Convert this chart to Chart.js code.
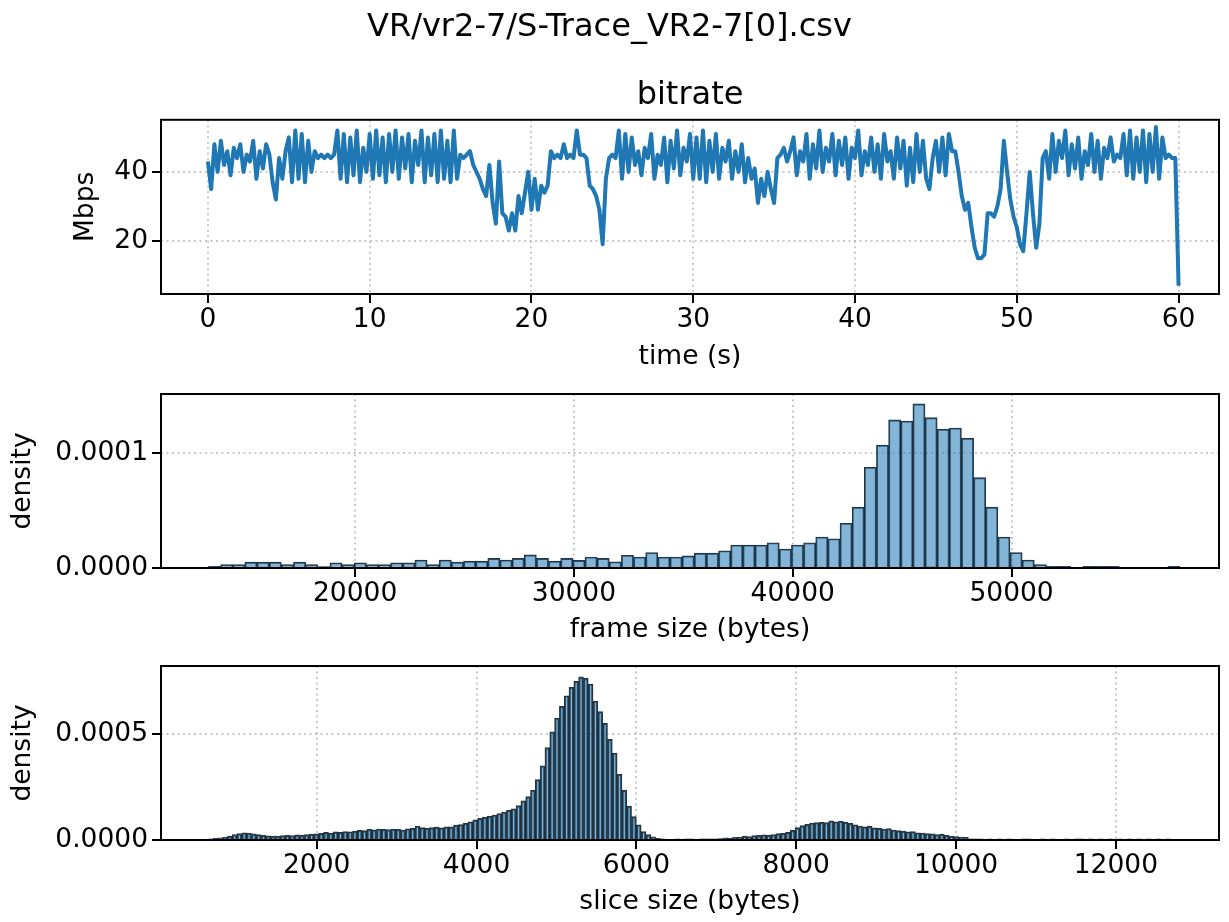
<!DOCTYPE html>
<html>
<head>
<meta charset="utf-8">
<script src="https://cdn.jsdelivr.net/npm/chart.js@4.4.1/dist/chart.umd.min.js"></script>
<style>
  body { margin: 0; background: #fff; }
  canvas { position: absolute; left: 0; }
</style>
</head>
<body>
<canvas id="bitrateChart" width="1229" height="380" style="top:0px"></canvas>
<canvas id="frameChart" width="1229" height="268" style="top:380px"></canvas>
<canvas id="sliceChart" width="1229" height="270" style="top:652px"></canvas>
<script>
// bitrate trace, one sample every 0.2 s from 0 to 60 s
const TIME_STEP = 0.2;
const bitrateMbps = [
  43, 35, 48, 40, 49, 42, 46, 39, 47, 44, 48, 40, 45, 43, 49, 38, 46, 41, 48, 45, 37, 32, 44, 38, 46,
  50, 37, 52, 38, 51, 37, 49, 40, 46, 44, 45, 44, 45, 44, 45, 52, 38, 51, 37, 50, 39, 52, 37, 47, 40,
  51, 38, 52, 39, 50, 37, 51, 40, 52, 38, 50, 41, 51, 37, 49, 42, 52, 37, 50, 39, 51, 37, 52, 38, 49,
  37, 52, 38, 45, 44, 45, 46, 42, 40, 38, 35, 33, 42, 31, 25, 43, 28, 27, 23, 28, 23, 33, 28, 34, 40,
  29, 38, 29, 36, 34, 36, 46, 44, 45, 44, 48, 44, 45, 44, 52, 45, 45, 44, 36, 35, 33, 29, 19, 38, 44,
  45, 44, 52, 38, 51, 40, 50, 42, 46, 39, 47, 44, 51, 38, 45, 42, 50, 37, 49, 41, 52, 39, 47, 43, 51,
  38, 50, 38, 52, 37, 49, 40, 51, 38, 47, 43, 49, 38, 46, 40, 48, 37, 44, 38, 41, 31, 38, 33, 40, 35,
  31, 44, 45, 47, 43, 46, 50, 39, 46, 43, 51, 38, 48, 41, 52, 40, 47, 43, 51, 39, 49, 42, 50, 38, 47,
  44, 52, 39, 46, 42, 50, 40, 48, 38, 51, 43, 46, 38, 50, 41, 49, 36, 47, 37, 51, 40, 49, 38, 35, 44,
  49, 40, 50, 39, 51, 46, 46, 40, 33, 29, 31, 24, 18, 15, 15, 16, 28, 28, 27, 30, 35, 49, 40, 32, 27,
  24, 19, 17, 28, 40, 28, 18, 25, 44, 46, 38, 51, 40, 49, 44, 52, 39, 48, 41, 50, 38, 46, 42, 51, 40,
  49, 38, 47, 44, 50, 43, 45, 44, 51, 39, 52, 38, 50, 40, 52, 37, 51, 40, 53, 38, 50, 44, 45, 44, 44,
  7
];
const timeTicks = [0, 10, 20, 30, 40, 50, 60];
const mbpsTicks = [20, 40];

// frame size histogram: 80 bins, density
const frameBinStart = 13300;
const frameBinWidth = 555;
const frameDensity = [
  0.0000015, 0.0000030, 0.0000030, 0.0000051, 0.0000051, 0.0000051, 0.0000030, 0.0000051, 0.0000030, 0.0000012,
  0.0000045, 0.0000030, 0.0000045, 0.0000030, 0.0000030, 0.0000045, 0.0000045, 0.0000069, 0.0000030, 0.0000069,
  0.0000051, 0.0000060, 0.0000060, 0.0000084, 0.0000069, 0.0000084, 0.0000114, 0.0000084, 0.0000060, 0.0000084,
  0.0000066, 0.0000096, 0.0000084, 0.0000054, 0.0000111, 0.0000096, 0.0000135, 0.0000096, 0.0000096, 0.0000105,
  0.0000129, 0.0000129, 0.0000150, 0.0000200, 0.0000200, 0.0000200, 0.0000220, 0.0000165, 0.0000200, 0.0000220,
  0.0000270, 0.0000255, 0.0000390, 0.0000530, 0.0000877, 0.0001070, 0.0001290, 0.0001280, 0.0001430, 0.0001310,
  0.0001210, 0.0001220, 0.0001130, 0.0000787, 0.0000530, 0.0000270, 0.0000135, 0.0000069, 0.0000030, 0.0000015,
  0.0000015, 0, 0.0000015, 0.0000015, 0.0000015, 0, 0, 0, 0, 0.0000015
];
const frameTicks = [20000, 30000, 40000, 50000];
const frameDensityTicks = [0, 0.0001];

// slice size histogram: 200 bins, density
const sliceBinStart = 642;
const sliceBinWidth = 60.2;
const sliceDensity = [
  0.000005, 0.000008, 0.000010, 0.000013, 0.000018, 0.000025, 0.000030, 0.000034, 0.000033, 0.000029,
  0.000026, 0.000022, 0.000020, 0.000018, 0.000019, 0.000021, 0.000022, 0.000021, 0.000024, 0.000023,
  0.000025, 0.000028, 0.000029, 0.000031, 0.000036, 0.000033, 0.000038, 0.000036, 0.000040, 0.000039,
  0.000042, 0.000045, 0.000044, 0.000050, 0.000048, 0.000052, 0.000050, 0.000049, 0.000051, 0.000050,
  0.000047, 0.000053, 0.000055, 0.000066, 0.000058, 0.000056, 0.000058, 0.000061, 0.000057, 0.000062,
  0.000062, 0.000070, 0.000073, 0.000079, 0.000086, 0.000095, 0.000102, 0.000108, 0.000112, 0.000118,
  0.000125, 0.000132, 0.000140, 0.000147, 0.000162, 0.000185, 0.000205, 0.000235, 0.000285, 0.000350,
  0.000435, 0.000510, 0.000575, 0.000630, 0.000680, 0.000720, 0.000748, 0.000769, 0.000762, 0.000735,
  0.000655, 0.000605, 0.000550, 0.000475, 0.000410, 0.000310, 0.000235, 0.000160, 0.000110, 0.000072,
  0.000040, 0.000025, 0.000015, 0.000008, 0.000005, 0.000004, 0.000004, 0.000005, 0.000004, 0.000005,
  0.000005, 0.000004, 0.000005, 0.000005, 0.000006, 0.000005, 0.000007, 0.000010, 0.000009, 0.000013,
  0.000012, 0.000018, 0.000016, 0.000021, 0.000022, 0.000024, 0.000023, 0.000026, 0.000030, 0.000032,
  0.000036, 0.000045, 0.000058, 0.000068, 0.000074, 0.000080, 0.000082, 0.000083, 0.000082, 0.000090,
  0.000086, 0.000089, 0.000084, 0.000078, 0.000072, 0.000066, 0.000062, 0.000064, 0.000057, 0.000055,
  0.000052, 0.000054, 0.000047, 0.000044, 0.000042, 0.000038, 0.000040, 0.000034, 0.000033, 0.000030,
  0.000029, 0.000026, 0.000028, 0.000022, 0.000019, 0.000016, 0.000014, 0.000012, 0.000006, 0.000005,
  0.000005, 0.000004, 0.000005, 0.000004, 0.000005, 0.000004, 0.000005, 0.000004, 0, 0.000005,
  0.000005, 0.000004, 0, 0.000005, 0.000004, 0.000005, 0.000004, 0, 0.000005, 0.000004,
  0.000005, 0.000005, 0.000004, 0.000005, 0.000004, 0.000005, 0.000004, 0.000005, 0.000004, 0.000005,
  0.000004, 0.000005, 0.000004, 0.000005, 0.000004, 0.000005, 0.000004, 0.000005, 0.000004, 0.000005
];
const sliceTicks = [2000, 4000, 6000, 8000, 10000, 12000];
const sliceDensityTicks = [0, 0.0005];

Chart.defaults.font.family = "'DejaVu Sans', sans-serif";
Chart.defaults.font.size = 26.5;
Chart.defaults.color = '#000';
Chart.defaults.animation = false;
Chart.defaults.plugins.legend.display = false;
Chart.defaults.plugins.tooltip.enabled = false;

// matplotlib style box around the plot area
const frameBox = {
  id: 'frameBox',
  afterDraw(chart) {
    const { ctx, chartArea: a } = chart;
    ctx.save();
    ctx.strokeStyle = '#000';
    ctx.lineWidth = 2;
    ctx.strokeRect(a.left, a.top, a.right - a.left, a.bottom - a.top);
    ctx.restore();
  }
};

const gridStyle = {
  color: 'rgba(176,176,176,0.7)',
  lineWidth: 2,
  tickLength: 9,
  tickWidth: 2,
  tickColor: '#000',
  offset: false
};

const fixedTicks = values => scale => {
  scale.ticks = values.map(v => ({ value: v }));
};

function xAxis(min, max, values, label, height, labelPad) {
  return {
    type: 'linear',
    min: min,
    max: max,
    offset: false,
    grid: gridStyle,
    border: { display: false, dash: [2, 3.5] },
    afterBuildTicks: fixedTicks(values),
    afterFit: s => { s.height = height; s.paddingLeft = 0; s.paddingRight = 0; },
    ticks: { padding: 1, autoSkip: false, maxRotation: 0, callback: v => String(v) },
    title: { display: true, text: label, padding: { top: 0, bottom: labelPad } }
  };
}

function yAxis(min, max, values, label, labelPad, fmt) {
  return {
    type: 'linear',
    min: min,
    max: max,
    grid: gridStyle,
    border: { display: false, dash: [2, 3.5] },
    afterBuildTicks: fixedTicks(values),
    afterFit: s => { s.width = 161; s.paddingTop = 0; s.paddingBottom = 0; },
    ticks: { padding: 4, autoSkip: false, callback: fmt },
    title: { display: true, text: label, padding: { top: labelPad, bottom: 0 } }
  };
}

new Chart(document.getElementById('bitrateChart'), {
  type: 'line',
  data: {
    datasets: [{
      data: bitrateMbps.map((v, i) => ({ x: i * TIME_STEP, y: v })),
      borderColor: '#1f77b4',
      borderWidth: 4,
      borderJoinStyle: 'round',
      pointRadius: 0,
      tension: 0,
      fill: false
    }]
  },
  options: {
    responsive: false,
    layout: { padding: { left: 0, right: 10, top: 0, bottom: 0 } },
    plugins: {
      title: {
        display: true,
        text: 'VR/vr2-7/S-Trace_VR2-7[0].csv',
        font: { size: 32, weight: 'normal' },
        padding: { top: 8, bottom: 0 }
      },
      subtitle: {
        display: true,
        text: 'bitrate',
        fullSize: false,
        font: { size: 32, weight: 'normal' },
        padding: { top: 30, bottom: 5 }
      }
    },
    scales: {
      x: xAxis(-2.9, 62.5, timeTicks, 'time (s)', 86, 7),
      y: yAxis(4.6, 55.1, mbpsTicks, 'Mbps', 70, v => String(v))
    }
  },
  plugins: [frameBox]
});

function histogram(canvasId, density, binStart, binWidth, xMin, xMax, xTicks, yMax, yTicks, xLabel, axisHeight, labelPad, edgeWidth) {
  return new Chart(document.getElementById(canvasId), {
    type: 'bar',
    data: {
      datasets: [{
        data: density.map((v, k) => ({ x: binStart + (k + 0.5) * binWidth, y: v })),
        backgroundColor: 'rgba(31,119,180,0.55)',
        borderColor: 'rgba(10,25,35,0.88)',
        borderWidth: edgeWidth,
        borderSkipped: 'start',
        barPercentage: 1,
        categoryPercentage: 1
      }]
    },
    options: {
      responsive: false,
      layout: { padding: { left: 0, right: 10, top: 14, bottom: 0 } },
      scales: {
        x: xAxis(xMin, xMax, xTicks, xLabel, axisHeight, labelPad),
        y: yAxis(0, yMax, yTicks, 'density', 7, v => v.toFixed(4))
      }
    },
    plugins: [frameBox]
  });
}

histogram('frameChart', frameDensity, frameBinStart, frameBinWidth, 11130, 59480,
  frameTicks, 0.0001516, frameDensityTicks, 'frame size (bytes)', 80, 2, 1.2);
histogram('sliceChart', sliceDensity, sliceBinStart, sliceBinWidth, 52, 13290,
  sliceTicks, 0.00082, sliceDensityTicks, 'slice size (bytes)', 82, 4, 1.5);
</script>
</body>
</html>
